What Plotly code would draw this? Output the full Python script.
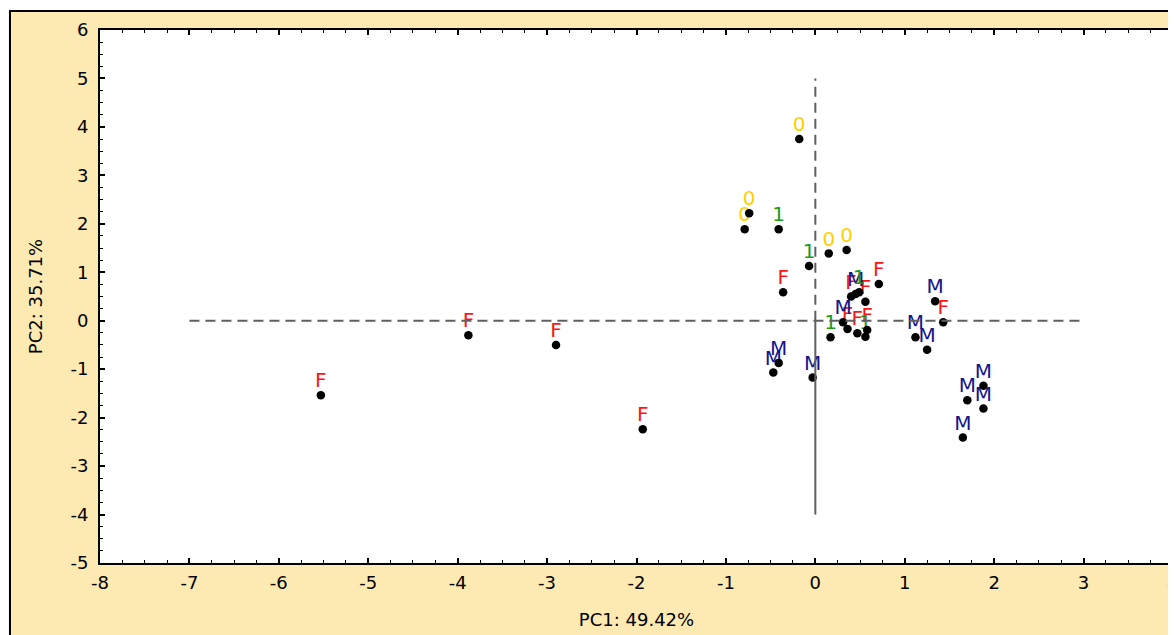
import plotly.graph_objects as go

# ---- data ----
f_x = [-5.53, -3.88, -2.90, -1.93, -0.36, 0.71, 0.40, 0.56, 1.43, 0.36, 0.47, 0.58]
f_y = [-1.54, -0.30, -0.50, -2.24, 0.59, 0.76, 0.50, 0.39, -0.03, -0.17, -0.26, -0.19]
m_x = [0.45, 1.34, 1.12, 1.25, 0.31, -0.41, -0.47, -0.03, 1.88, 1.70, 1.88, 1.65]
m_y = [0.55, 0.40, -0.34, -0.60, -0.03, -0.87, -1.07, -1.17, -1.34, -1.64, -1.81, -2.41]
o_x = [-0.18, -0.74, -0.79, 0.15, 0.35]
o_y = [3.75, 2.22, 1.89, 1.39, 1.46]
one_x = [-0.41, -0.07, 0.49, 0.56, 0.17]
one_y = [1.89, 1.13, 0.59, -0.33, -0.34]

groups = [
    ("F", f_x, f_y, "#FF1414"),
    ("M", m_x, m_y, "#14148C"),
    ("0", o_x, o_y, "#FFD000"),
    ("1", one_x, one_y, "#1A9A1A"),
]

x_ticks = list(range(-8, 5))
y_ticks = list(range(-5, 7))
x_title = "PC1: 49.42%"
y_title = "PC2: 35.71%"

# reference lines (data units)
h_line = (-7, 3)        # y = 0 from x=-7 to 3
v_dash = (0, 5)         # x = 0 dashed from y=0 to 5
v_solid = (-4, 0)       # x = 0 solid from y=-4 to 0

FONT = "DejaVu Sans, Liberation Sans, Arial, sans-serif"
BEIGE = "#FDE9B2"

fig = go.Figure()

for lab, xs, ys, col in groups:
    fig.add_trace(go.Scatter(
        x=xs, y=ys, mode="markers+text", text=[lab] * len(xs),
        textposition="top center",
        marker=dict(size=3, color="rgba(0,0,0,0)"),
        textfont=dict(family=FONT, size=20, color=col),
        hoverinfo="skip", showlegend=False, cliponaxis=False,
    ))

all_x = f_x + m_x + o_x + one_x
all_y = f_y + m_y + o_y + one_y
fig.add_trace(go.Scatter(
    x=all_x, y=all_y, mode="markers",
    marker=dict(size=8.5, color="black", line=dict(width=0)),
    showlegend=False,
))

shapes = [
    # outer beige frame
    dict(type="rect", xref="paper", yref="paper",
         x0=-0.0839, x1=1.2, y0=-0.5, y1=1.0356,
         fillcolor=BEIGE, line=dict(color="black", width=2), layer="below"),
    # white plotting area
    dict(type="rect", xref="paper", yref="paper", x0=0, x1=1, y0=0, y1=1,
         fillcolor="white", line=dict(width=0), layer="below"),
    dict(type="line", xref="x", yref="y", x0=h_line[0], x1=h_line[1], y0=0, y1=0,
         line=dict(color="#606060", width=2, dash="10px,6px")),
    dict(type="line", xref="x", yref="y", x0=0, x1=0, y0=v_dash[0], y1=v_dash[1],
         line=dict(color="#606060", width=2, dash="10px,6px")),
    dict(type="line", xref="x", yref="y", x0=0, x1=0, y0=v_solid[0], y1=v_solid[1],
         line=dict(color="#606060", width=2)),
]

axis_common = dict(
    showgrid=False, zeroline=False, showline=True, linecolor="black", linewidth=2,
    mirror="ticks", ticks="inside", ticklen=5, tickwidth=1.5, tickcolor="black",
    tickfont=dict(family=FONT, size=18, color="black"),
    minor=dict(dtick=0.25, ticks="inside", ticklen=3, tickcolor="black", tickwidth=1),
    automargin=False,
)

fig.update_layout(
    width=1176, height=627,
    margin=dict(l=92, r=11, t=22, b=72),
    paper_bgcolor="white", plot_bgcolor="white",
    shapes=shapes,
    xaxis=dict(range=[-8, 4], tickvals=x_ticks, ticktext=[str(v) for v in x_ticks],
               ticklabelstandoff=2,
               title=dict(text=x_title, font=dict(family=FONT, size=18, color="black"),
                          standoff=22), **axis_common),
    yaxis=dict(range=[-5, 6], tickvals=y_ticks, ticktext=[str(v) for v in y_ticks],
               ticklabelstandoff=6,
               title=dict(text=y_title, font=dict(family=FONT, size=18, color="black"),
                          standoff=23), **axis_common),
)

fig.write_html("out.html")
